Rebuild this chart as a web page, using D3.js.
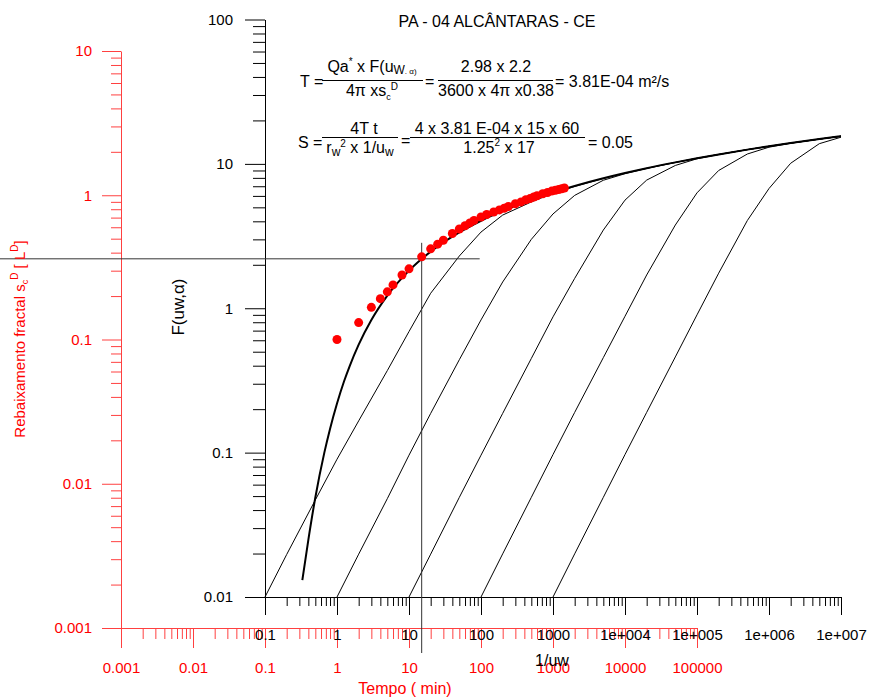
<!DOCTYPE html>
<html>
<head>
<meta charset="utf-8">
<script src="https://cdn.jsdelivr.net/npm/d3@7"></script>
<style>
  body { margin: 0; background: #fff; }
  text { font-family: "Liberation Sans", Arial, sans-serif; }
</style>
</head>
<body>
<svg id="chart" width="871" height="699"></svg>
<script>
// type curve (thick) : 1/uw and F
const thickInvU = [0.33, 0.4, 0.5, 0.667, 0.8, 1, 1.25, 1.5, 2, 3, 5, 10, 20, 50, 100, 200, 500, 1000, 2000, 5000,
  1e4, 2e4, 5e4, 1e5, 2e5, 5e5, 1e6, 2e6, 5e6, 1e7];
const thickF = [0.0131, 0.0249, 0.0489, 0.100, 0.146, 0.219, 0.311, 0.398, 0.560, 0.829, 1.223, 1.823, 2.468, 3.355,
  4.038, 4.726, 5.639, 6.332, 7.024, 7.940, 8.633, 9.326, 10.24, 10.94, 11.63, 12.55, 13.24, 13.93, 14.85, 15.54];

// thin family curves
const a1InvU = [0.1, 0.2, 0.5, 1, 2, 5, 10, 20, 50, 100, 200, 500, 1000, 2000, 5000, 1e4, 2e4, 5e4, 1e5, 2e5, 5e5, 1e6, 2e6, 5e6, 1e7];
const a1F = [0.01, 0.0197, 0.047, 0.090, 0.166, 0.37, 0.69, 1.27, 2.30, 3.37, 4.42, 5.45, 6.25, 6.98, 7.92, 8.62, 9.32, 10.24, 10.94, 11.63, 12.55, 13.24, 13.93, 14.85, 15.54];

const a2InvU = [1, 2, 5, 10, 20, 50, 100, 200, 500, 1000, 2000, 5000, 1e4, 2e4, 5e4, 1e5, 2e5, 5e5, 1e6, 2e6, 5e6, 1e7];
const a2F = [0.01, 0.0198, 0.048, 0.096, 0.187, 0.44, 0.83, 1.52, 3.0, 4.5, 6.05, 7.7, 8.55, 9.3, 10.22, 10.93, 11.63, 12.55, 13.24, 13.93, 14.85, 15.54];

const a3InvU = [10, 20, 50, 100, 200, 500, 1000, 2000, 5000, 1e4, 2e4, 5e4, 1e5, 2e5, 5e5, 1e6, 2e6, 5e6, 1e7];
const a3F = [0.01, 0.0198, 0.049, 0.096, 0.187, 0.449, 0.872, 1.61, 3.48, 5.61, 7.72, 9.75, 10.85, 11.6, 12.55, 13.24, 13.93, 14.85, 15.54];

const a4InvU = [100, 200, 500, 1000, 2000, 5000, 1e4, 2e4, 5e4, 1e5, 2e5, 5e5, 1e6, 2e6, 5e6, 1e7];
const a4F = [0.01, 0.0199, 0.049, 0.097, 0.19, 0.455, 0.88, 1.70, 3.77, 6.3, 9.0, 11.7, 13.05, 13.88, 14.83, 15.53];

const a5InvU = [1000, 2000, 5000, 1e4, 2e4, 5e4, 1e5, 2e5, 5e5, 1e6, 2e6, 5e6, 1e7];
const a5F = [0.01, 0.0199, 0.049, 0.097, 0.19, 0.46, 0.9, 1.75, 4.05, 6.75, 10.1, 13.8, 15.3];

// field data: time (min) and fractal drawdown
const timeMin = [1, 2, 3, 4, 5, 6, 8, 10, 15, 20, 25, 30, 40, 50, 60, 70, 80, 100, 120, 150, 180, 210, 240, 300, 360,
  420, 480, 540, 600, 720, 840, 960, 1080, 1200, 1320, 1440];
const drawdown = [0.100, 0.131, 0.167, 0.192, 0.214, 0.239, 0.280, 0.309, 0.374, 0.425, 0.458, 0.488, 0.543, 0.583,
  0.615, 0.643, 0.669, 0.707, 0.735, 0.766, 0.791, 0.813, 0.835, 0.873, 0.899, 0.931, 0.948, 0.973, 0.992, 1.024,
  1.044, 1.069, 1.083, 1.097, 1.109, 1.123];

// match point
const matchTime = 15;
const matchF = 2.2;

// ticks
const blackXTicks = [0.1, 1, 10, 100, 1000, 1e4, 1e5, 1e6, 1e7];
const blackXLabels = ['0.1', '1', '10', '100', '1000', '1e+004', '1e+005', '1e+006', '1e+007'];
const blackYTicks = [0.01, 0.1, 1, 10, 100];
const blackYLabels = ['0.01', '0.1', '1', '10', '100'];
const redXTicks = [0.001, 0.01, 0.1, 1, 10, 100, 1000, 10000, 100000];
const redXLabels = ['0.001', '0.01', '0.1', '1', '10', '100', '1000', '10000', '100000'];
const redYTicks = [0.001, 0.01, 0.1, 1, 10];
const redYLabels = ['0.001', '0.01', '0.1', '1', '10'];

const RED = '#ff0000';
const RED_LINE = '#ff4040';

const svg = d3.select('#chart');

const x = d3.scaleLog().domain([0.1, 1e7]).range([265, 841]);
const y = d3.scaleLog().domain([0.01, 100]).range([597, 19.5]);
const xr = d3.scaleLog().domain([0.001, 1e5]).range([121, 697]);
const yr = d3.scaleLog().domain([0.001, 10]).range([628, 51]);

const minors = (lo, hi) => {
  let out = [];
  for (let e = lo; e < hi; e++) {
    for (let m = 2; m <= 9; m++) out.push(+(m * Math.pow(10, e)).toPrecision(3));
  }
  return out;
};

const styleAxis = (g, color) => {
  g.attr('font-size', 15).attr('font-family', '"Liberation Sans", Arial, sans-serif').attr('color', color);
};

// ---- red axes (time / drawdown)
let gr = svg.append('g').attr('transform', 'translate(0,628)')
  .call(d3.axisBottom(xr).tickValues(minors(-3, 5)).tickSize(11).tickFormat(''));
gr.select('.domain').remove();
styleAxis(gr, RED_LINE);

gr = svg.append('g').attr('transform', 'translate(0,628)')
  .call(d3.axisBottom(xr).tickValues(redXTicks).tickFormat((d, i) => redXLabels[i])
    .tickSize(20).tickSizeOuter(0).tickPadding(14));
styleAxis(gr, RED_LINE);
gr.selectAll('text').attr('fill', RED);

gr = svg.append('g').attr('transform', 'translate(121,0)')
  .call(d3.axisLeft(yr).tickValues(minors(-3, 1)).tickSize(10).tickFormat(''));
gr.select('.domain').remove();
styleAxis(gr, RED_LINE);

gr = svg.append('g').attr('transform', 'translate(121,0)')
  .call(d3.axisLeft(yr).tickValues(redYTicks).tickFormat((d, i) => redYLabels[i])
    .tickSize(19).tickSizeOuter(0).tickPadding(10));
styleAxis(gr, RED_LINE);
gr.selectAll('text').attr('fill', RED);

// ---- black axes (1/uw, F)
let gb = svg.append('g').attr('transform', 'translate(0,597)')
  .call(d3.axisBottom(x).tickValues(minors(-1, 7)).tickSize(9).tickFormat(''));
gb.select('.domain').remove();
styleAxis(gb, '#000');

gb = svg.append('g').attr('transform', 'translate(0,597)')
  .call(d3.axisBottom(x).tickValues(blackXTicks).tickFormat((d, i) => blackXLabels[i])
    .tickSize(18).tickSizeOuter(0).tickPadding(14));
styleAxis(gb, '#000');

gb = svg.append('g').attr('transform', 'translate(265,0)')
  .call(d3.axisLeft(y).tickValues(minors(-2, 2)).tickSize(12).tickFormat(''));
gb.select('.domain').remove();
styleAxis(gb, '#000');

gb = svg.append('g').attr('transform', 'translate(265,0)')
  .call(d3.axisLeft(y).tickValues(blackYTicks).tickFormat((d, i) => blackYLabels[i])
    .tickSize(20).tickSizeOuter(0).tickPadding(12));
styleAxis(gb, '#000');

// ---- curves
const line = d3.line().x(d => x(d[0])).y(d => y(d[1]));
const thin = [[a1InvU, a1F], [a2InvU, a2F], [a3InvU, a3F], [a4InvU, a4F], [a5InvU, a5F]];

thin.forEach(c => {
  svg.append('path')
    .datum(c[0].map((v, i) => [v, c[1][i]]))
    .attr('d', line)
    .attr('fill', 'none')
    .attr('stroke', '#000')
    .attr('stroke-width', 1);
});

svg.append('path')
  .datum(thickInvU.map((v, i) => [v, thickF[i]]))
  .attr('d', line.curve(d3.curveMonotoneX))
  .attr('fill', 'none')
  .attr('stroke', '#000')
  .attr('stroke-width', 2);

// ---- match point cross
const mx = xr(matchTime);
const my = y(matchF);
svg.append('line').attr('x1', 0).attr('x2', mx + 58).attr('y1', my).attr('y2', my)
  .attr('stroke', '#333').attr('stroke-width', 1);
svg.append('line').attr('x1', mx).attr('x2', mx).attr('y1', my - 16).attr('y2', 653)
  .attr('stroke', '#333').attr('stroke-width', 1);

// ---- field data
svg.append('g').selectAll('circle')
  .data(timeMin)
  .join('circle')
  .attr('cx', d => xr(d))
  .attr('cy', (d, i) => yr(drawdown[i]))
  .attr('r', 4.5)
  .attr('fill', RED);

// ---- texts
const addText = (x0, y0, parts, anchor, size, color) => {
  const t = svg.append('text')
    .attr('x', x0).attr('y', y0)
    .attr('text-anchor', anchor || 'start')
    .attr('font-size', size || 16)
    .attr('fill', color || '#000');
  parts.forEach(p => {
    const s = t.append('tspan').text(p[0]);
    if (p[1]) s.attr('font-size', p[1]);
    if (p[2]) s.attr('dy', p[2]);
  });
  return t;
};

const rule = (x1, x2, yy) => {
  svg.append('line').attr('x1', x1).attr('x2', x2).attr('y1', yy).attr('y2', yy)
    .attr('stroke', '#000').attr('stroke-width', 1);
};

addText(497, 27, [['PA - 04 ALCÂNTARAS - CE']], 'middle', 16);

// T formula
addText(300, 87, [['T =']]);
addText(372, 72, [['Qa'], ['*', 10, -7], [' x F(u', 16, 7], ['W', 12, 2], ['. α)', 8, 0]], 'middle');
rule(322, 423, 80.5);
addText(372, 96, [['4π xs'], ['c', 9, 4], ['D', 10, -10]], 'middle');
addText(425, 87, [['=']]);
addText(496, 72, [['2.98 x 2.2']], 'middle');
rule(438, 553, 80.5);
addText(496, 96, [['3600 x 4π x0.38']], 'middle');
addText(555, 87, [['= 3.81E-04 m²/s']]);

// S formula
addText(298, 148, [['S =']]);
addText(364, 134, [['4T t']], 'middle');
rule(322, 398, 137.5);
addText(360, 153, [['r'], ['w', 12, 3], ['2', 10, -9], [' x 1/u', 16, 6], ['w', 12, 3]], 'middle');
addText(401, 146, [['=']]);
addText(497, 134, [['4 x 3.81 E-04 x 15 x 60']], 'middle');
rule(410, 585, 137.5);
addText(499, 153, [['1.25'], ['2', 10, -7], [' x 17', 16, 7]], 'middle');
addText(588, 148, [['= 0.05']]);

// axis titles
addText(552, 666, [['1/uw']], 'middle', 16);
addText(405, 694, [['Tempo ( min)']], 'middle', 16, RED);

svg.append('text')
  .attr('transform', 'translate(184,307) rotate(-90)')
  .attr('text-anchor', 'middle')
  .attr('font-size', 17)
  .text('F(uw,α)');

const yt = svg.append('text')
  .attr('transform', 'translate(25,339) rotate(-90)')
  .attr('text-anchor', 'middle')
  .attr('font-size', 15)
  .attr('fill', RED);
yt.append('tspan').text('Rebaixamento fractal s');
yt.append('tspan').text('c').attr('font-size', 9).attr('dy', 3);
yt.append('tspan').text('D').attr('font-size', 10).attr('dy', -10);
yt.append('tspan').text(' [ L').attr('font-size', 15).attr('dy', 7);
yt.append('tspan').text('D').attr('font-size', 10).attr('dy', -7);
yt.append('tspan').text(']').attr('font-size', 15).attr('dy', 7);
</script>
</body>
</html>
